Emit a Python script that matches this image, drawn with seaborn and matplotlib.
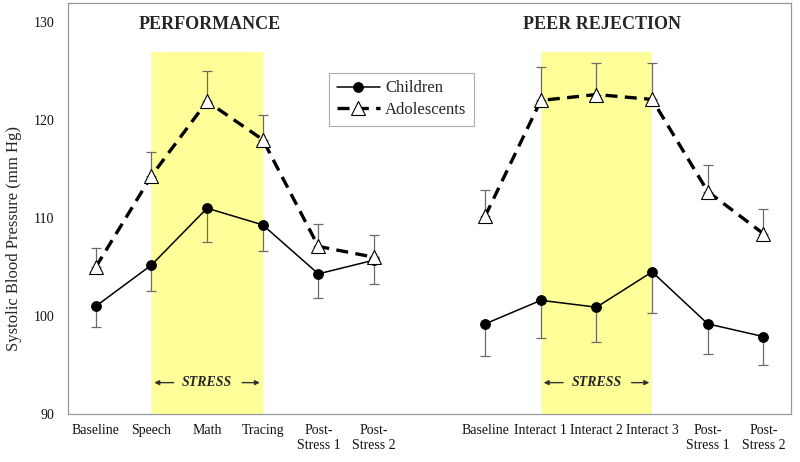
import matplotlib
matplotlib.use('Agg')
import matplotlib.pyplot as plt
import seaborn as sns
import pandas as pd
import numpy as np

# Stages for the two tasks (slot 6 is left empty as a gap)
perf_stages = ["Baseline", "Speech", "Math", "Tracing", "Post-\nStress 1", "Post-\nStress 2"]
peer_stages = ["Baseline", "Interact 1", "Interact 2", "Interact 3", "Post-\nStress 1", "Post-\nStress 2"]

# Mean systolic blood pressure (mm Hg) and standard errors
children_perf = [101.0, 105.2, 111.0, 109.3, 104.3, 105.7]
children_perf_se = [2.1, 2.6, 3.4, 2.7, 2.5, 2.4]
adolescents_perf = [105.0, 114.3, 121.9, 118.0, 107.1, 106.0]
adolescents_perf_se = [1.9, 2.4, 3.1, 2.5, 2.3, 2.3]

children_peer = [99.2, 101.6, 100.9, 104.5, 99.2, 97.9]
children_peer_se = [3.3, 3.8, 3.6, 4.2, 3.1, 2.9]
adolescents_peer = [110.2, 122.0, 122.6, 122.1, 112.7, 108.4]
adolescents_peer_se = [2.7, 3.4, 3.2, 3.7, 2.7, 2.5]

perf_pos = np.arange(0, 6)
peer_pos = np.arange(7, 13)

rows = []
for task, pos, ch, ch_se, ad, ad_se in [
    ("Performance", perf_pos, children_perf, children_perf_se, adolescents_perf, adolescents_perf_se),
    ("Peer Rejection", peer_pos, children_peer, children_peer_se, adolescents_peer, adolescents_peer_se),
]:
    for p, v, s in zip(pos, ch, ch_se):
        rows.append(dict(task=task, group="Children", pos=p, sbp=v, se=s))
    for p, v, s in zip(pos, ad, ad_se):
        rows.append(dict(task=task, group="Adolescents", pos=p, sbp=v, se=s))
df = pd.DataFrame(rows)

sns.set_style("white")
plt.rcParams['font.family'] = ['Liberation Serif', 'DejaVu Serif']

fig = plt.figure(figsize=(8, 4.62), dpi=100)
ax = fig.add_axes([0.085, 0.1039, 0.904, 0.8896])

# stress periods
band_color = '#FFFF99'
ax.fill_between([1, 3], 90, 126.9, color=band_color, lw=0, zorder=0)
ax.fill_between([8, 10], 90, 126.9, color=band_color, lw=0, zorder=0)

styles = {
    "Children": dict(color='black', lw=1.1, marker='o', markersize=7,
                     markerfacecolor='black', markeredgecolor='black'),
    "Adolescents": dict(color='black', lw=2.4, dashes=(3.6, 2.2), marker='^', markersize=10,
                        markerfacecolor='white', markeredgecolor='black', markeredgewidth=0.8),
}

for (task, group), sub in df.groupby(["task", "group"], sort=False):
    se = sub["se"].values
    zeros = np.zeros_like(se)
    yerr = [se, zeros] if group == "Children" else [zeros, se]
    ax.errorbar(sub["pos"], sub["sbp"], yerr=yerr, fmt='none', ecolor='#6b6b6b',
                elinewidth=0.9, capsize=3.5, capthick=0.9, zorder=2)
    label = group if task == "Performance" else None
    sns.lineplot(data=sub, x="pos", y="sbp", ax=ax, label=label, legend=False,
                 zorder=3, **styles[group])

# stress markers
for center, left, right in [(2, 1, 3), (9, 8, 10)]:
    ax.text(center, 93.2, "STRESS", ha='center', va='center', fontsize=10,
            fontweight='bold', fontstyle='italic', zorder=4)
    ax.annotate('', xy=(left, 93.2), xytext=(left + 0.45, 93.2),
                arrowprops=dict(arrowstyle='-|>', color='#333333', lw=1, mutation_scale=7))
    ax.annotate('', xy=(right, 93.2), xytext=(right - 0.42, 93.2),
                arrowprops=dict(arrowstyle='-|>', color='#333333', lw=1, mutation_scale=7))

ax.text(2.05, 129.7, "PERFORMANCE", ha='center', va='center', fontsize=13, fontweight='bold')
ax.text(9.1, 129.7, "PEER REJECTION", ha='center', va='center', fontsize=13, fontweight='bold')

ax.set_xlim(-0.5, 12.5)
ax.set_ylim(90, 131.94)
ax.set_yticks([90, 100, 110, 120, 130])
ax.set_xticks(list(perf_pos) + list(peer_pos))
ax.set_xticklabels(perf_stages + peer_stages)
ax.set_xticks(np.arange(-0.5, 13, 1), minor=True)
ax.tick_params(axis='x', which='major', length=0, pad=7, labelsize=10, labelcolor='#111111')
ax.tick_params(axis='x', which='minor', length=4, width=0.8, color='#999999', direction='out')
ax.tick_params(axis='y', length=4, width=0.8, color='#999999', direction='out', pad=6,
               labelsize=10, labelcolor='#111111')
ax.set_xlabel("")
ax.set_ylabel("Systolic Blood Pressure (mm Hg)", fontsize=12)
ax.yaxis.set_label_coords(-0.064, 0.428)

for side in ['left', 'bottom', 'top', 'right']:
    ax.spines[side].set_color('#999999')
    ax.spines[side].set_linewidth(0.9)

leg = ax.legend(loc='upper left', bbox_to_anchor=(0.361, 0.830), borderaxespad=0,
                frameon=True, fancybox=False, edgecolor='#999999', fontsize=12,
                handlelength=2.6, handletextpad=0.3, borderpad=0.45, labelspacing=0.35)
leg.get_frame().set_linewidth(0.8)

fig.savefig("out.png", dpi=100)
plt.close(fig)
